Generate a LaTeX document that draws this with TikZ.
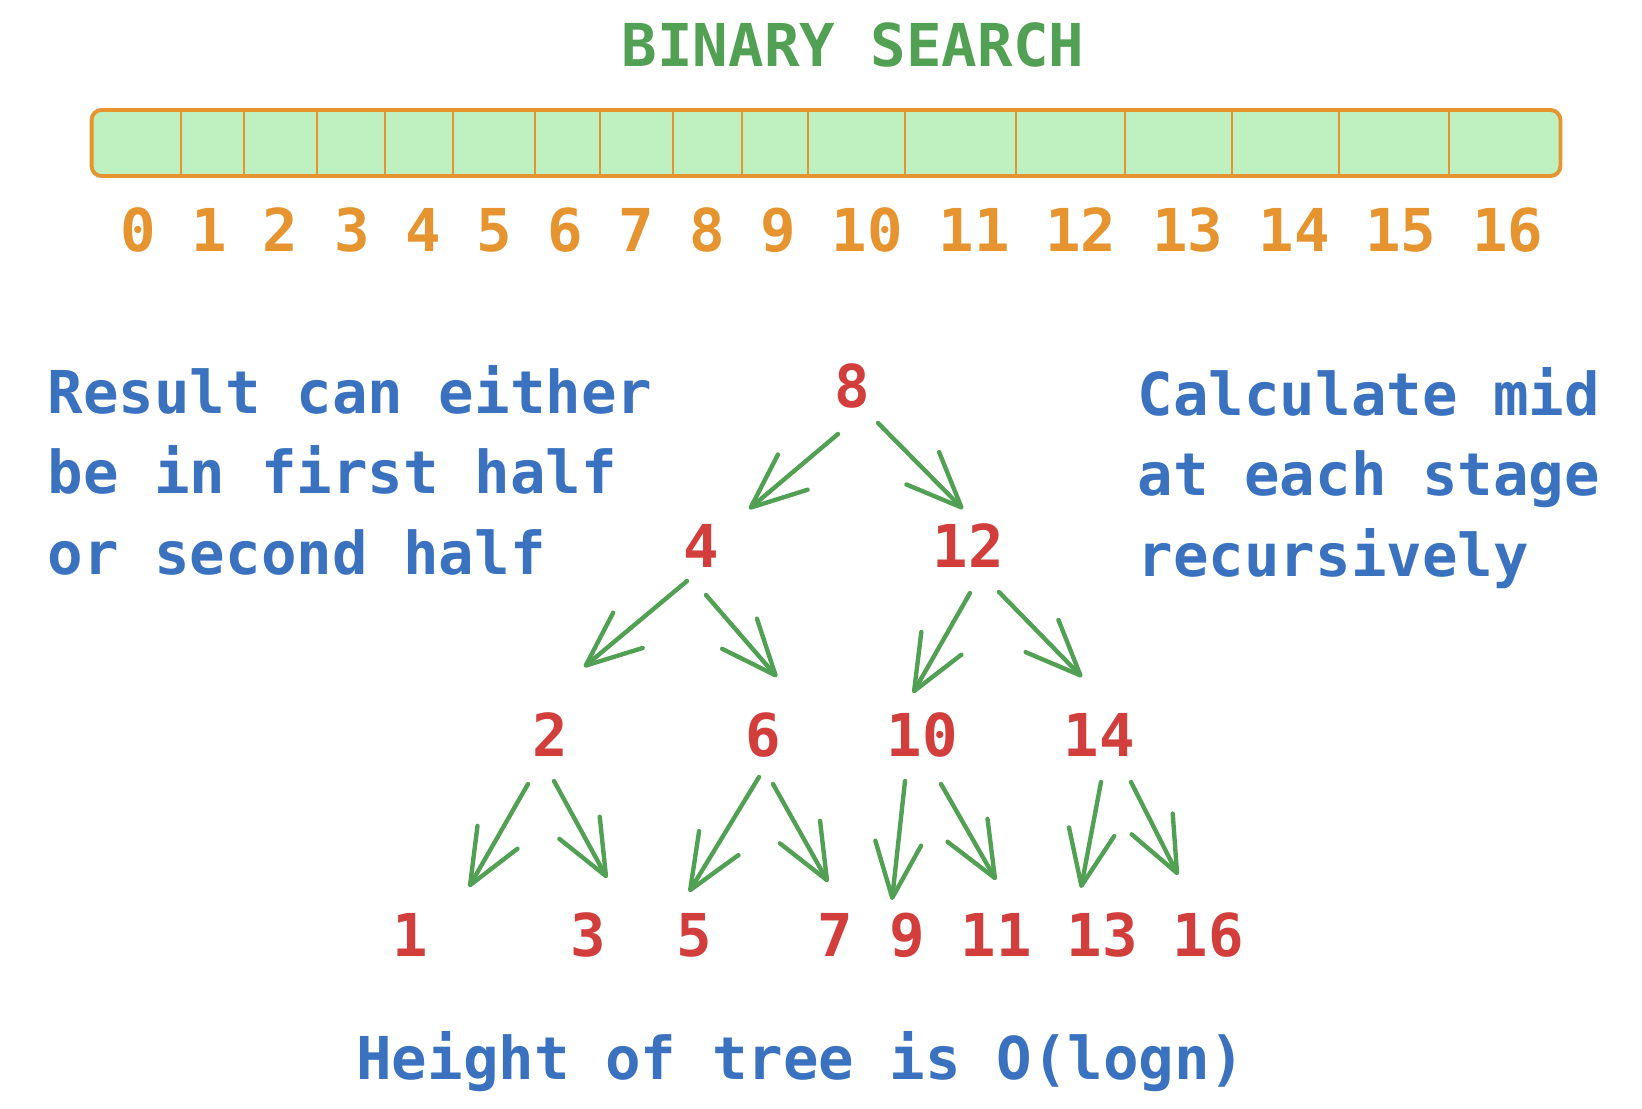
\documentclass[tikz,border=0pt]{standalone}
\usepackage{fontspec}
\usepackage{tikz}
\usetikzlibrary{arrows.meta}
\newfontfamily\sketchfont{DejaVu Sans Mono Bold}
\definecolor{sketchgreen}{RGB}{82,160,84}
\definecolor{sketchred}{RGB}{210,62,60}
\definecolor{sketchblue}{RGB}{58,114,192}
\definecolor{sketchorange}{RGB}{230,148,48}
\definecolor{cellfill}{RGB}{191,240,192}
\tikzset{
  sketchtext/.style={inner sep=0pt,
                     font={\sketchfont\fontsize{16.8pt}{22.8pt}\selectfont}},
  heading/.style={sketchtext, text=sketchgreen},
  sidenote/.style={sketchtext, text=sketchblue, align=left, anchor=north west},
  treekey/.style={sketchtext, text=sketchred},
  treearrow/.style={draw=sketchgreen, line width=1.25pt, line cap=round,
                    -{Straight Barb[length=5.5mm, width=4.6mm, round]}}
}

\begin{document}
\begin{tikzpicture}[
    x=0.01cm, y=-0.01cm,
    % the array strip along the top, one cell per index
    arraybox/.style={draw=sketchorange, fill=cellfill, line width=1.1pt,
                     rounded corners=0.1cm, minimum width=14.68cm,
                     minimum height=0.66cm, inner sep=0pt},
    cellline/.style={draw=sketchorange, line width=0.8pt},
    idxlabel/.style={sketchtext, text=sketchorange}
]
  \useasboundingbox (0,0) rectangle (1642,1108);

  \node[heading] (title) at (853,45) {BINARY SEARCH};
  \node[arraybox] (bar) at (826,143) {};
  \foreach \x in {181,244,317,385,453,535,600,673,742,808,905,1016,1125,1232,1339,1449} {
    \draw[cellline] (\x,0 |- bar.north) -- (\x,0 |- bar.south);
  }
  \node[idxlabel] (indices) at (832,230)
    {0 1 2 3 4 5 6 7 8 9 10 11 12 13 14 15 16};

  % the notes either side of the tree
  \node[sidenote] (halves) at (47,365)
    {Result can either\\be in first half\\or second half};
  \node[sidenote] (midnote) at (1137,367)
    {Calculate mid\\at each stage\\recursively};

  % mids of every stage
  \foreach \k/\x/\y in {8/852/386, 4/701/546, 12/968/546,
                        2/550/735, 6/763/735, 10/922/735, 14/1099/735,
                        1/410/935, 3/588/935, 5/694/935, 7/835/935,
                        9/907/935, 11/996/935, 13/1102/935, 16/1208/935} {
    \node[treekey] (n\k) at (\x,\y) {\k};
  }
  % hand-drawn arrows: offsets from the centres of both ends
  \foreach \from/\to/\sx/\sy/\tx/\ty in {
      8/4/-14/48/48/-37, 8/12/26/37/-5/-37,
      4/2/-14/35/34/-68, 4/6/5/49/14/-58,
      12/10/2/47/-9/-42, 12/14/31/46/-17/-58,
      2/1/-22/49/59/-48, 2/3/4/46/19/-57,
      6/5/-4/42/-5/-43, 6/7/10/49/-7/-53,
      10/9/-17/46/-15/-35, 10/11/19/49/0/-55,
      14/13/2/47/-21/-47, 14/16/32/47/-30/-60} {
    \draw[treearrow] ([shift={(\sx,\sy)}]n\from.center)
      -- ([shift={(\tx,\ty)}]n\to.center);
  }

  \node[sketchtext, text=sketchblue, anchor=base] (height) at (801,1079)
    {Height of tree is O(logn)};
\end{tikzpicture}
\end{document}
